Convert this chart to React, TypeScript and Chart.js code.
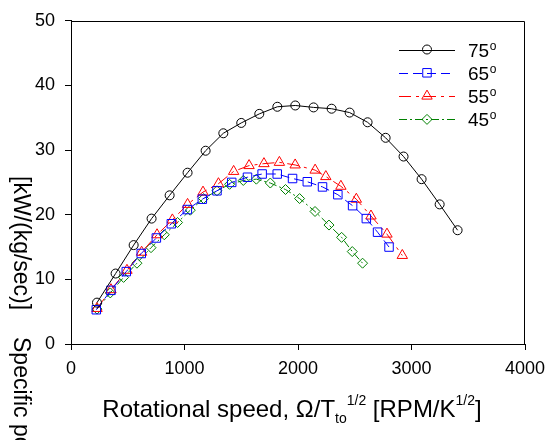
import React, { useEffect, useRef } from 'react';
import { Chart, registerables } from 'chart.js';

Chart.register(...registerables);

const FONT = '"Liberation Sans", Arial, Helvetica, sans-serif';

// Legend labels (angle in degrees)
const seriesLabels = ['75', '65', '55', '45'];

// 75 deg
const x75 = [229, 393, 552, 710, 869, 1027, 1186, 1342, 1500, 1659, 1818, 1976, 2137, 2296, 2455, 2613, 2772, 2930, 3089, 3248, 3406];
const y75 = [6.4, 10.9, 15.3, 19.4, 23.0, 26.5, 29.9, 32.6, 34.2, 35.6, 36.7, 36.9, 36.6, 36.4, 35.8, 34.3, 31.9, 29.0, 25.5, 21.6, 17.6];

// 65 deg
const x65 = [223, 352, 487, 619, 752, 884, 1025, 1157, 1286, 1416, 1555, 1684, 1817, 1952, 2082, 2216, 2351, 2481, 2602, 2701, 2802];
const y65 = [5.3, 8.3, 11.2, 14.0, 16.4, 18.6, 20.8, 22.4, 23.7, 25.0, 25.8, 26.3, 26.3, 25.6, 25.1, 24.3, 23.1, 21.4, 19.4, 17.3, 15.0];

// 55 deg
const x55 = [229, 352, 493, 622, 758, 893, 1027, 1163, 1299, 1433, 1569, 1700, 1836, 1975, 2151, 2245, 2378, 2514, 2643, 2784, 2919];
const y55 = [5.5, 8.4, 11.4, 14.2, 16.9, 19.2, 21.6, 23.5, 24.8, 26.7, 27.6, 27.9, 28.1, 27.7, 26.9, 25.9, 24.4, 22.4, 19.8, 17.0, 13.7];

// 45 deg
const x45 = [229, 346, 463, 581, 705, 822, 939, 1051, 1168, 1286, 1397, 1518, 1633, 1756, 1890, 2014, 2150, 2273, 2384, 2478, 2569];
const y45 = [5.4, 7.9, 10.3, 12.5, 14.9, 16.9, 18.8, 20.7, 22.5, 23.7, 24.7, 25.3, 25.5, 24.9, 23.9, 22.5, 20.5, 18.4, 16.5, 14.3, 12.5];

const xTicks = [0, 1000, 2000, 3000, 4000];
const yTicks = [0, 10, 20, 30, 40, 50];

const toPts = (xs: number[], ys: number[]) => xs.map((x, i) => ({ x, y: ys[i] }));

function drawMarker(ctx: CanvasRenderingContext2D, style: string, x: number, y: number, r: number) {
  ctx.beginPath();
  if (style === 'circle') {
    ctx.arc(x, y, r, 0, Math.PI * 2);
  } else if (style === 'rect') {
    const s = r * Math.SQRT1_2;
    ctx.rect(x - s, y - s, 2 * s, 2 * s);
  } else if (style === 'triangle') {
    let a = 0;
    ctx.moveTo(x + Math.sin(a) * r, y - Math.cos(a) * r);
    a += (2 * Math.PI) / 3;
    ctx.lineTo(x + Math.sin(a) * r, y - Math.cos(a) * r);
    a += (2 * Math.PI) / 3;
    ctx.lineTo(x + Math.sin(a) * r, y - Math.cos(a) * r);
    ctx.closePath();
  } else if (style === 'rectRot') {
    ctx.moveTo(x - r, y);
    ctx.lineTo(x, y - r);
    ctx.lineTo(x + r, y);
    ctx.lineTo(x, y + r);
    ctx.closePath();
  }
  ctx.stroke();
}

const decorPlugin = {
  id: 'decor',
  afterDraw(chart: any) {
    const { ctx, chartArea } = chart;
    ctx.save();
    // top and right frame lines
    ctx.strokeStyle = '#000';
    ctx.lineWidth = 1;
    ctx.setLineDash([]);
    const top = Math.round(chartArea.top) + 0.5;
    const right = Math.round(chartArea.right) - 0.5;
    ctx.beginPath();
    ctx.moveTo(chartArea.left, top);
    ctx.lineTo(right, top);
    ctx.lineTo(right, chartArea.bottom);
    ctx.stroke();

    // legend
    chart.data.datasets.forEach((ds: any, i: number) => {
      const ly = 49.5 + i * 23.3;
      ctx.strokeStyle = ds.borderColor;
      ctx.lineWidth = 1;
      ctx.setLineDash(ds.borderDash || []);
      ctx.beginPath();
      ctx.moveTo(399, Math.round(ly) + 0.5);
      ctx.lineTo(455, Math.round(ly) + 0.5);
      ctx.stroke();
      ctx.setLineDash([]);
      ctx.strokeStyle = ds.pointBorderColor;
      drawMarker(ctx, ds.pointStyle, 427, ly, ds.pointRadius);
      ctx.fillStyle = '#000';
      ctx.textAlign = 'left';
      ctx.textBaseline = 'alphabetic';
      ctx.font = `19px ${FONT}`;
      const label = seriesLabels[i];
      ctx.fillText(label, 468, ly + 7);
      const w = ctx.measureText(label).width;
      ctx.font = `12px ${FONT}`;
      ctx.fillText('o', 468 + w + 0.5, ly);
    });

    // x-axis title with sub/superscripts
    const segs = [
      { t: 'Rotational speed, \u03A9/T', s: 24, dy: 0 },
      { t: 'to', s: 14, dy: 6 },
      { t: '1/2', s: 14, dy: -12 },
      { t: ' [RPM/K', s: 24, dy: 0 },
      { t: '1/2', s: 14, dy: -12 },
      { t: ']', s: 24, dy: 0 },
    ];
    let total = 0;
    const widths = segs.map((sg) => {
      ctx.font = `${sg.s}px ${FONT}`;
      const w = ctx.measureText(sg.t).width;
      total += w;
      return w;
    });
    let cx = 292 - total / 2;
    ctx.fillStyle = '#000';
    ctx.textAlign = 'left';
    ctx.textBaseline = 'alphabetic';
    segs.forEach((sg, i) => {
      ctx.font = `${sg.s}px ${FONT}`;
      ctx.fillText(sg.t, cx, 417 + sg.dy);
      cx += widths[i];
    });

    // y-axis title (rotated clockwise, in two parts)
    ctx.font = `23px ${FONT}`;
    ctx.save();
    ctx.translate(14, 176);
    ctx.rotate(Math.PI / 2);
    ctx.fillText('[kW/(kg/sec)]', 0, 0);
    ctx.restore();
    ctx.save();
    ctx.translate(14, 337);
    ctx.rotate(Math.PI / 2);
    ctx.fillText('Specific power', 0, 0);
    ctx.restore();

    ctx.restore();
  },
};

export default function App() {
  const ref = useRef<HTMLCanvasElement | null>(null);

  useEffect(() => {
    if (!ref.current) return;
    const common = {
      showLine: true,
      borderWidth: 1,
      pointBorderWidth: 1,
      pointBackgroundColor: 'rgba(0,0,0,0)',
      fill: false,
      tension: 0,
    };
    const chart = new Chart(ref.current, {
      type: 'scatter',
      data: {
        datasets: [
          {
            ...common,
            label: seriesLabels[0],
            data: toPts(x75, y75),
            borderColor: '#000000',
            pointBorderColor: '#000000',
            pointStyle: 'circle',
            pointRadius: 4.5,
            borderDash: [],
          },
          {
            ...common,
            label: seriesLabels[1],
            data: toPts(x65, y65),
            borderColor: '#0000ff',
            pointBorderColor: '#0000ff',
            pointStyle: 'rect',
            pointRadius: 6,
            borderDash: [9, 5],
          },
          {
            ...common,
            label: seriesLabels[2],
            data: toPts(x55, y55),
            borderColor: '#ff0000',
            pointBorderColor: '#ff0000',
            pointStyle: 'triangle',
            pointRadius: 6,
            borderDash: [12, 5, 3, 5],
          },
          {
            ...common,
            label: seriesLabels[3],
            data: toPts(x45, y45),
            borderColor: '#008000',
            pointBorderColor: '#008000',
            pointStyle: 'rectRot',
            pointRadius: 5,
            borderDash: [8, 3, 2, 3],
          },
        ] as any,
      },
      options: {
        animation: false,
        responsive: false,
        maintainAspectRatio: false,
        devicePixelRatio: 1,
        layout: { padding: { top: 16, right: 30, left: 0, bottom: 0 } },
        plugins: {
          legend: { display: false },
          tooltip: { enabled: false },
          title: { display: false },
        },
        scales: {
          x: {
            type: 'linear',
            min: 0,
            max: 4000,
            afterBuildTicks: (s: any) => {
              s.ticks = xTicks.map((v) => ({ value: v }));
            },
            ticks: {
              font: { family: FONT, size: 18 },
              color: '#000',
              padding: 8,
              maxRotation: 0,
              autoSkip: false,
              callback: (v: any) => String(v),
            },
            grid: { drawOnChartArea: false, drawTicks: true, tickLength: 6, color: '#000' },
            border: { display: true, color: '#000', width: 1 },
            afterFit: (s: any) => {
              s.height = 96;
            },
          },
          y: {
            type: 'linear',
            min: 0,
            max: 50,
            afterBuildTicks: (s: any) => {
              s.ticks = yTicks.map((v) => ({ value: v }));
            },
            ticks: {
              font: { family: FONT, size: 18 },
              color: '#000',
              padding: 10,
              autoSkip: false,
              callback: (v: any) => String(v),
            },
            grid: { drawOnChartArea: false, drawTicks: true, tickLength: 6, color: '#000' },
            border: { display: true, color: '#000', width: 1 },
            afterFit: (s: any) => {
              s.width = 71;
            },
          },
        },
      } as any,
      plugins: [decorPlugin],
    });
    return () => chart.destroy();
  }, []);

  return (
    <div style={{ position: 'absolute', left: 0, top: 0, width: 555, height: 440, background: '#fff' }}>
      <canvas ref={ref} width={555} height={440} style={{ display: 'block', width: 555, height: 440 }} />
    </div>
  );
}
